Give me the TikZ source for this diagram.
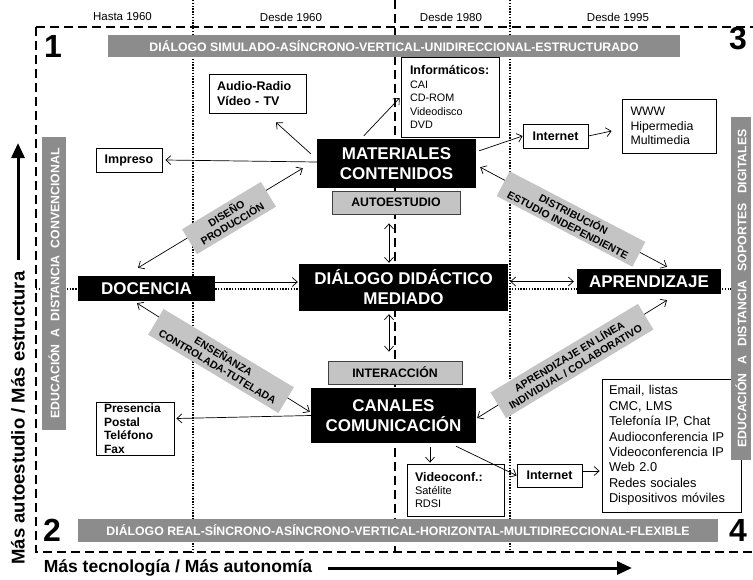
\documentclass[tikz,border=0pt]{standalone}
\usepackage{fontspec}
\setmainfont{Liberation Sans}
\usetikzlibrary{arrows.meta,calc}
\definecolor{bannergray}{HTML}{8C8C8C}
\definecolor{labgray}{HTML}{C4C4C4}
\newcommand{\fsz}[2]{\fontsize{#1}{#2}\selectfont}
\begin{document}
\begin{tikzpicture}[x=1pt,y=-1pt,
  blk/.style={fill=black,text=white,font=\fsz{17}{20}\bfseries,align=center,inner sep=0pt},
  gbox/.style={fill=labgray,draw=black!75,line width=0.8pt,font=\fsz{12.3}{14}\bfseries,inner sep=0pt},
  wbox/.style={draw=black,fill=white,line width=0.8pt,align=left,inner ysep=0pt},
  cbox/.style={draw=black,fill=white,line width=0.8pt,inner sep=0pt,font=\fsz{12.5}{14}\bfseries},
  banner/.style={fill=bannergray,text=white,font=\fsz{12.3}{14}\bfseries,inner sep=0pt},
  lab/.style={fill=labgray,font=\fsz{10.5}{12}\bfseries,align=center,inner sep=0pt},
  hdr/.style={font=\fsz{11.5}{13},inner sep=0pt},
  num/.style={font=\fsz{32}{32}\bfseries,inner sep=0pt},
  axislab/.style={font=\fsz{17.5}{20}\bfseries,inner sep=0pt},
  arr/.style={-{Straight Barb[length=5pt,width=9pt]},line width=0.7pt},
  darr/.style={{Straight Barb[length=5pt,width=9pt]}-{Straight Barb[length=5pt,width=9pt]},line width=0.7pt},
  bigarr/.style={-{Triangle[length=15pt,width=13pt]},line width=3pt},
  dashedline/.style={dash pattern=on 8.5pt off 5.5pt,line width=1.8pt},
  dotline/.style={dash pattern=on 1.3pt off 1.5pt,line width=1.5pt}]
\useasboundingbox (0,0) rectangle (753,579);
% background grid
\draw[dotline] (193,0) -- (193,552);
\draw[dotline] (510,0) -- (510,552);
\draw[dotline] (36,289) -- (731,289);
\draw[dashedline] (395,0) -- (395,552);
\draw[dashedline] (36,27) -- (753,27);
\draw[dashedline] (36,27) -- (36,552) -- (753,552);
% headers
\node[hdr] (h1) at (122.5,17) {Hasta 1960};
\node[hdr] (h2) at (291,17) {Desde 1960};
\node[hdr] (h3) at (451,17) {Desde 1980};
\node[hdr] (h4) at (618,17) {Desde 1995};
% main black nodes
\node[blk,minimum width=159pt,minimum height=49pt] (mat) at (396.5,163.5) {MATERIALES\\CONTENIDOS};
\node[gbox,minimum width=128pt,minimum height=23pt] (auto) at (396,202.5) {AUTOESTUDIO};
\node[blk,minimum width=209pt,minimum height=47pt] (dial) at (403.5,287.5) {DIÁLOGO DIDÁCTICO\\MEDIADO};
\node[blk,minimum width=137pt,minimum height=25pt] (doc) at (146.5,288.5) {DOCENCIA};
\node[blk,minimum width=144pt,minimum height=25pt] (apr) at (649,281.5) {APRENDIZAJE};
\node[gbox,minimum width=134pt,minimum height=23pt] (inter) at (395,372.5) {INTERACCIÓN};
\node[blk,minimum width=165pt,minimum height=55pt] (can) at (393.5,415.5) {CANALES\\COMUNICACIÓN};
% white boxes
\node[wbox,minimum width=97pt,minimum height=39pt,inner xsep=8pt,text width=81pt,font=\fsz{12.5}{15}\bfseries] (audio) at (257.5,93.5) {Audio-Radio\\Vídeo - TV};
\node[wbox,minimum width=98pt,minimum height=80pt,inner xsep=9pt,text width=80pt,font=\fsz{10.8}{13.5}] (info) at (450,97) {{\fsz{12.5}{13.5}\bfseries Informáticos:}\\CAI\\CD-ROM\\Videodisco\\DVD};
\node[cbox,minimum width=66pt,minimum height=24pt] (imp) at (129,160) {Impreso};
\node[cbox,minimum width=65pt,minimum height=24pt] (inet1) at (555.5,136) {Internet};
\node[wbox,minimum width=94pt,minimum height=54pt,inner xsep=8.5pt,text width=77pt,font=\fsz{12.3}{14.7}] (www) at (669,126) {WWW\\Hipermedia\\Multimedia};
\node[wbox,minimum width=78pt,minimum height=53pt,inner xsep=8pt,text width=62pt,font=\fsz{12}{13.5}\bfseries] (pres) at (135,428.5) {Presencia\\Postal\\Teléfono\\Fax};
\node[wbox,minimum width=97pt,minimum height=52pt,inner xsep=8pt,text width=81pt,font=\fsz{11}{13.4}] (video) at (455.5,490) {{\fsz{12.5}{13.4}\bfseries Videoconf.:}\\Satélite\\RDSI};
\node[cbox,minimum width=65pt,minimum height=23pt] (inet2) at (549.5,475.5) {Internet};
\node[wbox,minimum width=139pt,minimum height=133pt,inner xsep=7pt,text width=125pt,font=\fsz{12.8}{15.4}] (email) at (671.5,445.5) {Email, listas\\CMC, LMS\\Telefonía IP, Chat\\Audioconferencia IP\\Videoconferencia IP\\Web 2.0\\Redes sociales\\Dispositivos móviles};
% banners
\node[banner,minimum width=572pt,minimum height=22pt] (btop) at (394,46) {DIÁLOGO SIMULADO-ASÍNCRONO-VERTICAL-UNIDIRECCIONAL-ESTRUCTURADO};
\node[banner,minimum width=640pt,minimum height=23pt] (bbot) at (398,530.5) {DIÁLOGO REAL-SÍNCRONO-ASÍNCRONO-VERTICAL-HORIZONTAL-MULTIDIRECCIONAL-FLEXIBLE};
\node[banner,rotate=90,minimum width=293pt,minimum height=24pt] (bleft) at (54,283.5) {EDUCACIÓN\hspace{7pt}A\hspace{7pt}DISTANCIA\hspace{7pt}CONVENCIONAL};
\node[banner,rotate=90,minimum width=343pt,minimum height=20pt] (bright) at (741,288.5) {EDUCACIÓN\hspace{9pt}A\hspace{9pt}DISTANCIA\hspace{9pt}SOPORTES\hspace{9pt}DIGITALES};
% numbers
\node[num] (n1) at (53,46) {1};
\node[num] (n3) at (738,39) {3};
\node[num] (n2) at (52,530.5) {2};
\node[num] (n4) at (738,530.5) {4};
% axes
\node[axislab,font=\fsz{18.5}{20}\bfseries,rotate=90] (ay) at (18,418) {Más autoestudio / Más estructura};
\node[axislab] (ax) at (178,568) {Más tecnología / Más autonomía};
\coordinate (ayt) at (18,260);
\coordinate (ayh) at (18,143);
\coordinate (axt) at (328,568);
\coordinate (axh) at (632,568);
\draw[bigarr] (ayt) -- (ayh);
\draw[bigarr] (axt) -- (axh);
% connectors
\draw[darr] ($(doc.north)+(-8.5,-8)$) -- ($(mat.south west)+(-14,-20)$);
\draw[arr] ($(mat.west)+(0,-1.5)$) -- ($(imp.east)+(3,0)$);
\draw[arr] ($(mat.north west)+(-6,15)$) -- ($(audio.south)+(18.5,9)$);
\draw[arr] ($(mat.north west)+(47,-3)$) -- ($(info.west)+(-1,1)$);
\draw[arr] ($(mat.north east)+(3,12)$) -- (inet1.west);
\draw[arr] (inet1.east) -- ($(www.west)+(-10,5)$);
\draw[darr] ($(apr.north)+(18,-2)$) -- ($(mat.south east)+(4,-21)$);
\draw[darr] ($(auto.south)+(-7,9)$) -- ($(auto.south |- dial.north)+(-7,-1)$);
\draw[darr] ($(auto.south |- dial.south)+(-7,3)$) -- ($(auto.south |- inter.north)+(-7,-9)$);
\draw[arr] ($(doc.east)+(0,-6.5)$) -- ($(doc.east -| dial.west)+(-1,-6.5)$);
\draw[darr] ($(dial.east |- apr.west)+(2,0)$) -- ($(apr.west)+(-3,0)$);
\draw[darr] ($(doc.south)+(-9.5,2)$) -- ($(can.north west)+(-1,24)$);
\draw[arr] (can.west) -- ($(pres.east)+(2,-10)$);
\draw[darr] ($(can.east)+(1,2.5)$) -- ($(apr.south)+(18,6)$);
\draw[arr] ($(can.south)+(36.5,4)$) -- ($(video.north)+(-25.5,-1)$);
\draw[arr] ($(can.south)+(62.5,3)$) -- (inet2.west);
\draw[arr] ($(inet2.east)+(0,-4.5)$) -- ($(inet2.east -| email.west)+(-2,-4.5)$);
% rotated labels
\node[lab,rotate=31,minimum width=92pt,minimum height=29pt] (l1) at (229,218) {DISEÑO\\PRODUCCIÓN};
\node[lab,rotate=-27.5,minimum width=153pt,minimum height=28pt] (l2) at (571,219) {DISTRIBUCIÓN\\ESTUDIO INDEPENDIENTE};
\node[lab,rotate=-31,minimum width=152pt,minimum height=30pt] (l3) at (221,361) {ENSEÑANZA\\CONTROLADA-TUTELADA};
\node[lab,rotate=31,minimum width=172pt,minimum height=30pt] (l4) at (572,361) {APRENDIZAJE EN LÍNEA\\INDIVIDUAL / COLABORATIVO};
\end{tikzpicture}
\end{document}
